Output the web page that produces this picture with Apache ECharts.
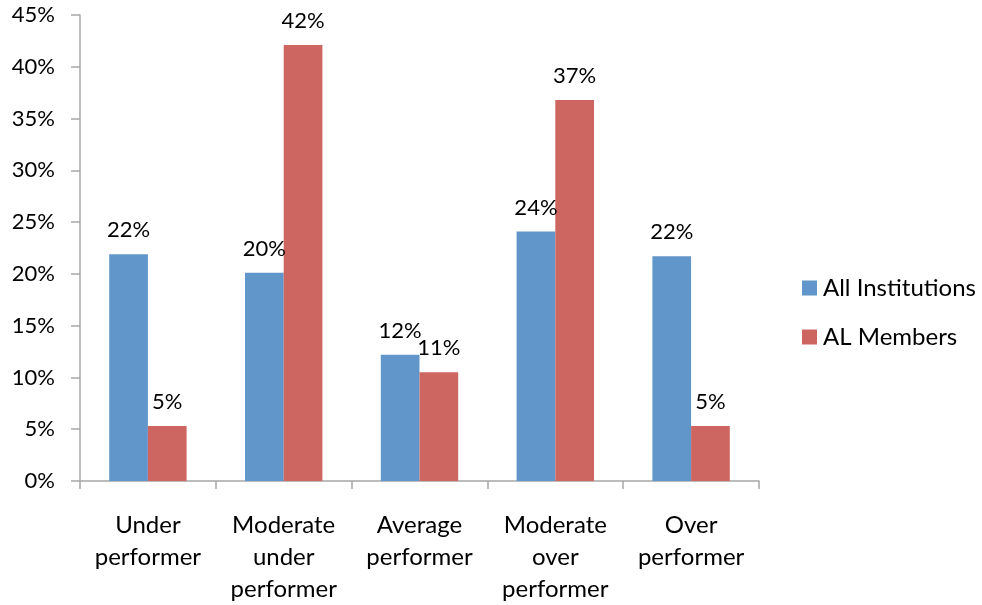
<!DOCTYPE html>
<html>
<head>
<meta charset="utf-8">
<script src="https://cdn.jsdelivr.net/npm/echarts@6/dist/echarts.min.js"></script>
<style>
html, body { margin: 0; padding: 0; background: #fff; }
#chart { width: 982px; height: 605px; }
</style>
</head>
<body>
<div id="chart"></div>
<script>
var categories = ['Under\nperformer', 'Moderate\nunder\nperformer', 'Average\nperformer', 'Moderate\nover\nperformer', 'Over\nperformer']
var allInstitutions = [21.9, 20.1, 12.2, 24.1, 21.7]
var alMembers = [5.3, 42.1, 10.5, 36.8, 5.3]
var yTicks = [0, 5, 10, 15, 20, 25, 30, 35, 40, 45]

var font = 'Lato, "Open Sans", sans-serif'
var axisColor = '#A6A6A6'

var chart = echarts.init(document.getElementById('chart'))

function labelFor() {
	return {
		show: true,
		position: 'top',
		distance: 13,
		color: '#000',
		fontFamily: font,
		fontSize: 22,
		formatter: function (p) { return Math.round(p.value) + '%' }
	}
}

var option = {
	animation: false,
	grid: { left: 80, right: 223, top: 15, bottom: 122, containLabel: false },
	legend: {
		orient: 'vertical',
		left: 802,
		top: 276,
		padding: 0,
		itemWidth: 15,
		itemHeight: 15,
		itemGap: 25,
		icon: 'rect',
		textStyle: { fontFamily: font, fontSize: 24, lineHeight: 24, color: '#000', padding: [0, 0, 0, 1] },
		data: ['All Institutions', 'AL Members']
	},
	xAxis: {
		type: 'category',
		data: categories,
		axisLine: { lineStyle: { color: axisColor, width: 1.5 } },
		axisTick: { show: true, length: 8, lineStyle: { color: axisColor, width: 1.5 } },
		axisLabel: {
			color: '#000',
			fontFamily: font,
			fontSize: 24,
			lineHeight: 32,
			margin: 28,
			interval: 0,
			align: 'center'
		}
	},
	yAxis: {
		type: 'value',
		min: 0,
		max: 45,
		interval: 5,
		splitLine: { show: false },
		axisLine: { show: true, lineStyle: { color: axisColor, width: 1.5 } },
		axisTick: { show: true, length: 9, lineStyle: { color: axisColor, width: 1.5 } },
		axisLabel: {
			color: '#000',
			fontFamily: font,
			fontSize: 22,
			margin: 25,
			formatter: function (v) { return yTicks.indexOf(v) >= 0 ? v + '%' : '' }
		}
	},
	series: [
		{
			name: 'All Institutions',
			type: 'bar',
			data: allInstitutions,
			barGap: '0%',
			barCategoryGap: '43%',
			itemStyle: { color: '#6096C9' },
			label: labelFor()
		},
		{
			name: 'AL Members',
			type: 'bar',
			data: alMembers,
			barGap: '0%',
			barCategoryGap: '43%',
			itemStyle: { color: '#CD6660' },
			label: labelFor()
		}
	]
}

chart.setOption(option, true)
</script>
</body>
</html>
